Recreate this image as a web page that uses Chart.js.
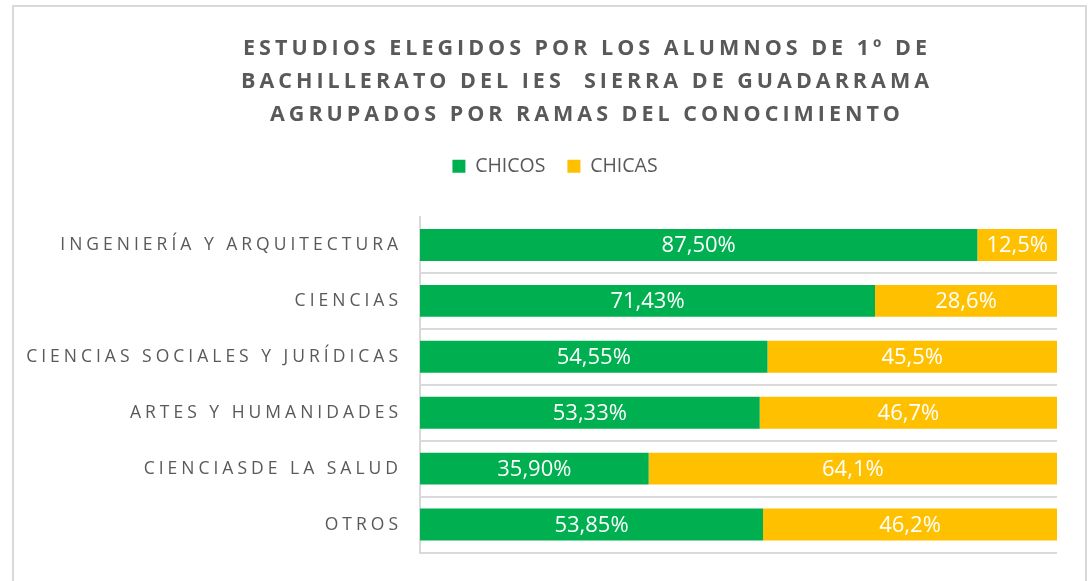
<!DOCTYPE html>
<html>
<head>
<meta charset="utf-8">
<script src="https://cdn.jsdelivr.net/npm/chart.js@4.4.1/dist/chart.umd.min.js"></script>
<style>
  html, body { margin: 0; padding: 0; background: #fff; overflow: hidden; }
  #frame { position: absolute; left: 12px; top: 5px; width: 1071px; height: 640px; border: 2px solid #d9d9d9; }
  #chart { position: absolute; left: 0; top: 0; }
</style>
</head>
<body>
<div id="frame"></div>
<canvas id="chart" width="1088" height="581"></canvas>
<script>
// data (percent of each branch)
const categories = [
  'INGENIERÍA Y ARQUITECTURA',
  'CIENCIAS',
  'CIENCIAS SOCIALES Y JURÍDICAS',
  'ARTES Y HUMANIDADES',
  'CIENCIASDE LA SALUD',
  'OTROS'
];
const seriesNames = ['CHICOS', 'CHICAS'];
const chicos = [87.50, 71.43, 54.55, 53.33, 35.90, 53.85];
const chicas = [12.50, 28.57, 45.45, 46.67, 64.10, 46.15];
const labelDecimals = [2, 1];
const titleLines = [
  'ESTUDIOS ELEGIDOS POR LOS ALUMNOS DE 1º DE',
  'BACHILLERATO DEL IES  SIERRA DE GUADARRAMA',
  'AGRUPADOS POR RAMAS DEL CONOCIMIENTO'
];

const grey = '#595959';
const gridGrey = '#d9d9d9';

// spaced capitals for title + axis labels, plain text for legend and bar labels
const spacing = {
  id: 'spacing',
  afterLayout(chart) {
    // title and legend are not centred on the same point in the original
    chart.titleBlock.left += 117;
    chart.legend.left += 53;
    chart.legend.top -= 31;
  },
  beforeDraw(chart) {
    const lg = chart.legend;
    if (!lg._plainText) {
      const orig = lg.draw.bind(lg);
      lg.draw = function () {
        const ctx = this.ctx;
        const prev = ctx.letterSpacing;
        ctx.letterSpacing = '0px';
        orig();
        ctx.letterSpacing = prev;
      };
      lg._plainText = true;
    }
    chart.ctx.letterSpacing = '4px';
  },
  beforeDatasetsDraw(chart) { chart.ctx.letterSpacing = '0px'; }
};

const barLabels = {
  id: 'barLabels',
  afterDatasetsDraw(chart) {
    const ctx = chart.ctx;
    ctx.save();
    ctx.font = '22px "Open Sans"';
    ctx.fillStyle = '#ffffff';
    ctx.textAlign = 'center';
    ctx.textBaseline = 'middle';
    chart.data.datasets.forEach((ds, di) => {
      const meta = chart.getDatasetMeta(di);
      meta.data.forEach((bar, i) => {
        const txt = (ds.data[i] + 1e-9).toFixed(labelDecimals[di]).replace('.', ',') + '%';
        ctx.fillText(txt, (bar.x + bar.base) / 2, bar.y + 1);
      });
    });
    ctx.restore();
  }
};

new Chart(document.getElementById('chart'), {
  type: 'bar',
  data: {
    labels: categories,
    datasets: [
      { label: seriesNames[0], data: chicos, backgroundColor: '#00b050', borderWidth: 0,
        barPercentage: 1, categoryPercentage: 0.57 },
      { label: seriesNames[1], data: chicas, backgroundColor: '#ffc000', borderWidth: 0,
        barPercentage: 1, categoryPercentage: 0.57 }
    ]
  },
  options: {
    indexAxis: 'y',
    responsive: false,
    animation: false,
    devicePixelRatio: 1,
    layout: { padding: { left: 0, right: 31, top: 0, bottom: 19 } },
    scales: {
      x: { stacked: true, min: 0, max: 100, display: false },
      y: {
        stacked: true,
        grid: {
          offset: true, drawTicks: false, lineWidth: 2,
          color: c => c.index === 0 ? 'rgba(0,0,0,0)' : gridGrey
        },
        border: { display: true, color: gridGrey, width: 2 },
        ticks: {
          color: grey, padding: 18, autoSkip: false,
          font: { family: '"Open Sans"', size: 17.5 }
        },
        afterFit(s) { s.width = 420; }
      }
    },
    plugins: {
      title: {
        display: true,
        text: titleLines,
        color: grey,
        font: { family: '"Open Sans"', size: 21.5, weight: 'bold', lineHeight: '33px' },
        padding: { top: 32.5, bottom: 34 }
      },
      legend: {
        position: 'top',
        labels: {
          color: grey, boxWidth: 13, boxHeight: 13, padding: 22,
          font: { family: '"Open Sans"', size: 19.5 }
        }
      },
      tooltip: { enabled: false }
    }
  },
  plugins: [spacing, barLabels]
});
</script>
</body>
</html>
